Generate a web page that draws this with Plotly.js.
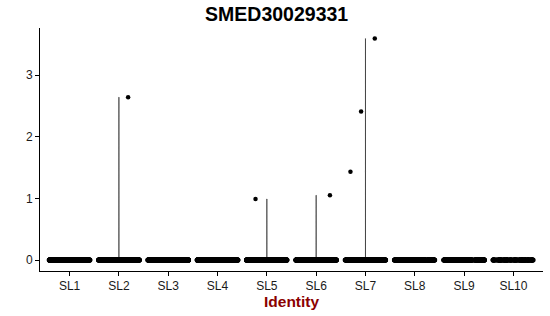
<!DOCTYPE html>
<html>
<head>
<meta charset="utf-8">
<script src="https://cdn.plot.ly/plotly-3.0.1.min.js"></script>
<style>html,body{margin:0;padding:0;background:#fff;}#chart{width:550px;height:316px;}</style>
</head>
<body>
<div id="chart"></div>
<script>
// Identity classes
var categories = ["SL1","SL2","SL3","SL4","SL5","SL6","SL7","SL8","SL9","SL10"];
// estimated number of cells with zero expression in each class
var zeroCounts = [420, 400, 380, 360, 330, 300, 280, 260, 230, 120];
// non-zero expression values per class
var nonZeroSL2 = [2.64];
var nonZeroSL5 = [0.99];
var nonZeroSL6 = [1.05];
var nonZeroSL7 = [3.59, 2.41, 1.43];
var nonZero = {SL2: nonZeroSL2, SL5: nonZeroSL5, SL6: nonZeroSL6, SL7: nonZeroSL7};
var yTicks = [0, 1, 2, 3];

var font = "Liberation Sans, Arial, Helvetica, sans-serif";
var traces = [];

// violin outlines (only classes with some expression have a visible shape)
categories.forEach(function(c, i) {
  var vals = nonZero[c];
  if (!vals) return;
  var ys = [];
  for (var k = 0; k < zeroCounts[i]; k++) ys.push(0);
  vals.forEach(function(v) { ys.push(v); });
  traces.push({
    type: "violin", x: ys.map(function() { return c; }), y: ys,
    width: 0.9, spanmode: "hard", bandwidth: 0.01, scalemode: "width",
    points: false, fillcolor: "rgba(0,0,0,0)",
    line: {color: "#000", width: 0.6},
    box: {visible: false}, meanline: {visible: false},
    hoverinfo: "skip", showlegend: false
  });
});

// jittered cells with zero expression
var zx = [], zy = [];
categories.forEach(function(c, i) {
  for (var k = 0; k < zeroCounts[i]; k++) { zx.push(c); zy.push(0); }
});
traces.push({
  type: "box", x: zx, y: zy, width: 0.9,
  boxpoints: "all", pointpos: 0, jitter: 0.92,
  fillcolor: "rgba(0,0,0,0)", line: {color: "rgba(0,0,0,0)", width: 0},
  marker: {color: "#000", size: 5, line: {width: 0}},
  hoverinfo: "skip", showlegend: false
});

// jittered cells with non-zero expression
var nx = [], ny = [];
categories.forEach(function(c) {
  (nonZero[c] || []).forEach(function(v) { nx.push(c); ny.push(v); });
});
traces.push({
  type: "box", x: nx, y: ny, width: 0.9,
  boxpoints: "all", pointpos: 0, jitter: 0.8,
  fillcolor: "rgba(0,0,0,0)", line: {color: "rgba(0,0,0,0)", width: 0},
  marker: {color: "#000", size: 4.5, line: {width: 0}},
  hoverinfo: "skip", showlegend: false
});

var layout = {
  width: 550, height: 316,
  margin: {l: 40, r: 7, t: 28, b: 45},
  paper_bgcolor: "#fff", plot_bgcolor: "#fff",
  font: {family: font, color: "#000"},
  violinmode: "overlay", boxmode: "overlay",
  title: {
    text: "<b>SMED30029331</b>",
    font: {family: font, size: 19.5, color: "#000"},
    x: 0.503, xref: "container", xanchor: "center",
    y: 0.955, yref: "container", yanchor: "middle"
  },
  xaxis: {
    type: "category",
    categoryorder: "array", categoryarray: categories,
    range: [-0.6, 9.6],
    showline: true, linecolor: "#000", linewidth: 1,
    ticks: "outside", ticklen: 4, tickcolor: "#000", tickwidth: 1,
    tickfont: {family: font, size: 12, color: "#1a1a1a"},
    showgrid: false, zeroline: false
  },
  yaxis: {
    range: [-0.178, 3.762],
    tickvals: yTicks,
    showline: true, linecolor: "#000", linewidth: 1,
    ticks: "outside", ticklen: 4, tickcolor: "#000", tickwidth: 1,
    tickfont: {family: font, size: 12, color: "#1a1a1a"},
    showgrid: false, zeroline: false
  },
  annotations: [{
    text: "<b>Identity</b>", showarrow: false,
    xref: "paper", x: 0.5, xanchor: "center",
    yref: "paper", y: -0.124, yanchor: "middle",
    font: {family: font, size: 15.5, color: "#8B0000"}
  }]
};

Plotly.newPlot("chart", traces, layout, {displayModeBar: false, staticPlot: true});
</script>
</body>
</html>
